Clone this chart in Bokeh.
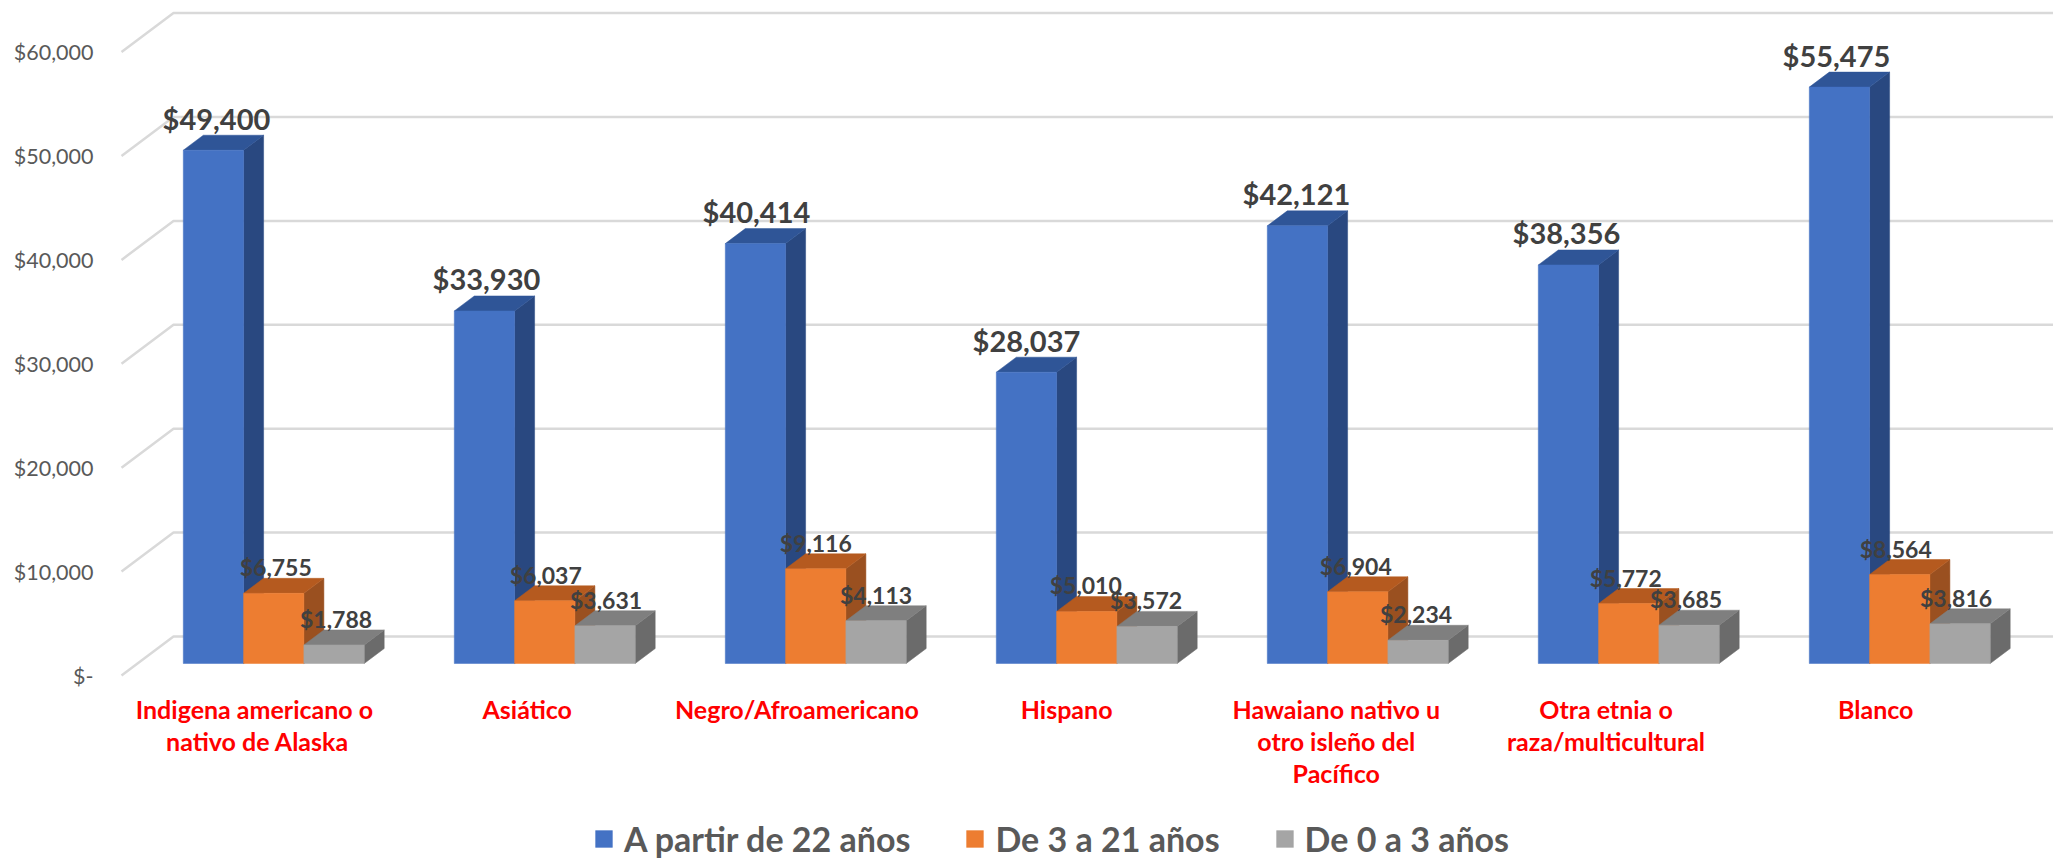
from bokeh.plotting import figure
from bokeh.models import (Range1d, LinearAxis, FixedTicker, Legend, LegendItem, ColumnDataSource)
from bokeh.core.properties import value
from bokeh.embed import file_html
from bokeh.resources import INLINE

categories = ["Indigena  americano o\nnativo de Alaska", "Asiático", "Negro/Afroamericano", "Hispano",
              "Hawaiano nativo u\notro isleño del\nPacífico", "Otra etnia o\nraza/multicultural", "Blanco"]
adults = [49400, 33930, 40414, 28037, 42121, 38356, 55475]
youth = [6755, 6037, 9116, 5010, 6904, 5772, 8564]
infants = [1788, 3631, 4113, 3572, 2234, 3685, 3816]
series_names = ["A partir de 22 años", "De 3 a 21 años", "De 0 a 3 años"]
y_ticks = [0, 10000, 20000, 30000, 40000, 50000, 60000]
y_tick_labels = ["$-", "$10,000", "$20,000", "$30,000", "$40,000", "$50,000", "$60,000"]

# layout, in pixels of the page
W, H = 2053, 859
L, R, T, B = 100, 2053, 0, 859           # frame edges on the page
PX_X = 271.0                             # pixels per category
PX_Y = 103.9 / 10000                     # pixels per dollar
X0, Y0 = 273.25, 663.0                   # page position of category 0 centre, and of $0 on the bars
BAR = 60.3 / PX_X
DX, DY = 20 / PX_X, 15 / PX_Y            # depth of a bar
FLOOR_F, FLOOR_B = -12 / PX_Y, 27 / PX_Y # front and back shift of the grid
GX_F, GX_B = (121 - X0) / PX_X, (173 - X0) / PX_X

x_start, x_end = (L - X0) / PX_X, (R - X0) / PX_X
y_start, y_end = -(B - Y0) / PX_Y, (Y0 - T) / PX_Y

p = figure(width=W, height=H, output_backend="svg", toolbar_location=None,
           x_range=Range1d(x_start, x_end), y_range=Range1d(y_start, y_end),
           x_axis_type=None, y_axis_type=None,
           min_border_left=L, min_border_right=0, min_border_top=0, min_border_bottom=0,
           outline_line_color=None, background_fill_color="white", border_fill_color="white")

# y labels sit on the front edge of the floor
p.extra_y_ranges = {"front": Range1d(y_start - FLOOR_F, y_end - FLOOR_F)}
yaxis = LinearAxis(y_range_name="front", ticker=FixedTicker(ticks=y_ticks),
                   major_label_overrides=dict(zip(y_ticks, y_tick_labels)),
                   axis_line_color=None, major_tick_line_color=None, minor_tick_line_color=None,
                   major_tick_in=0, major_tick_out=0, major_label_standoff=7,
                   major_label_text_font="Lato", major_label_text_font_size="21.5px",
                   major_label_text_color="#595959")
p.add_layout(yaxis, "left")

idx = list(range(len(categories)))

# gridlines: floor-depth diagonal, then along the back wall
p.multi_line(xs=[[GX_F, GX_B, x_end] for _ in y_ticks],
             ys=[[t + FLOOR_F, t + FLOOR_B, t + FLOOR_B] for t in y_ticks],
             line_color="#D9D9D9", line_width=2.5)

colors = [("#4472C4", "#2F5597", "#294880"), ("#ED7D31", "#B55A1F", "#9A5020"), ("#A5A5A5", "#7F7F7F", "#6B6B6B")]
data = [adults, youth, infants]
legend_items = []
for s, vals in enumerate(data):
    off = (s - 1) * BAR
    front, top, side = colors[s]
    xs = [i + off for i in idx]
    side_x = [[x + BAR / 2, x + BAR / 2 + DX, x + BAR / 2 + DX, x + BAR / 2] for x in xs]
    side_y = [[0, DY, v + DY, v] for v in vals]
    top_x = [[x - BAR / 2, x - BAR / 2 + DX, x + BAR / 2 + DX, x + BAR / 2] for x in xs]
    top_y = [[v, v + DY, v + DY, v] for v in vals]
    p.patches(side_x, side_y, fill_color=side, line_color=side, line_width=0.5)
    p.patches(top_x, top_y, fill_color=top, line_color=top, line_width=0.5)
    r = p.vbar(x=xs, width=BAR, bottom=0, top=vals, fill_color=front, line_color=front, line_width=0.5)
    legend_items.append(LegendItem(label=series_names[s], renderers=[r]))

# value labels drift slightly left of the bars in the reference
LABEL_DRIFT = 1.0 / PX_X
for s, vals in enumerate(data):
    off = (s - 1) * BAR
    src = ColumnDataSource(dict(x=[i + off - LABEL_DRIFT * i for i in idx], y=vals, t=[f"${v:,}" for v in vals]))
    p.text("x", "y", text="t", source=src, text_font=value("Lato"), text_font_style="bold",
           text_font_size="29px" if s == 0 else "23px", text_color="#404040",
           text_align="center", text_baseline="alphabetic",
           x_offset=3 if s == 0 else 2, y_offset=-32 if s == 0 else -26)

# category labels
LAB_X0, LAB_STEP, LAB_TOP = 257.0, 269.7, 693.0
cat_src = ColumnDataSource(dict(x=[(LAB_X0 + LAB_STEP * i - X0) / PX_X for i in idx],
                                y=[(Y0 - LAB_TOP) / PX_Y for _ in idx], t=categories))
p.text("x", "y", text="t", source=cat_src, text_font=value("Lato"), text_font_style="bold",
       text_font_size="25px", text_color="#FF0000", text_align="center", text_baseline="top",
       text_line_height=1.08)

legend = Legend(items=legend_items, orientation="horizontal", location=(493, 0),
                border_line_color=None, background_fill_alpha=0,
                glyph_width=21, glyph_height=21, label_standoff=10, spacing=54,
                label_text_font="Lato", label_text_font_style="bold",
                label_text_font_size="34px", label_text_color="#595959",
                padding=0, margin=0)
p.add_layout(legend, "center")

open("out.html", "w").write(file_html(p, INLINE))
